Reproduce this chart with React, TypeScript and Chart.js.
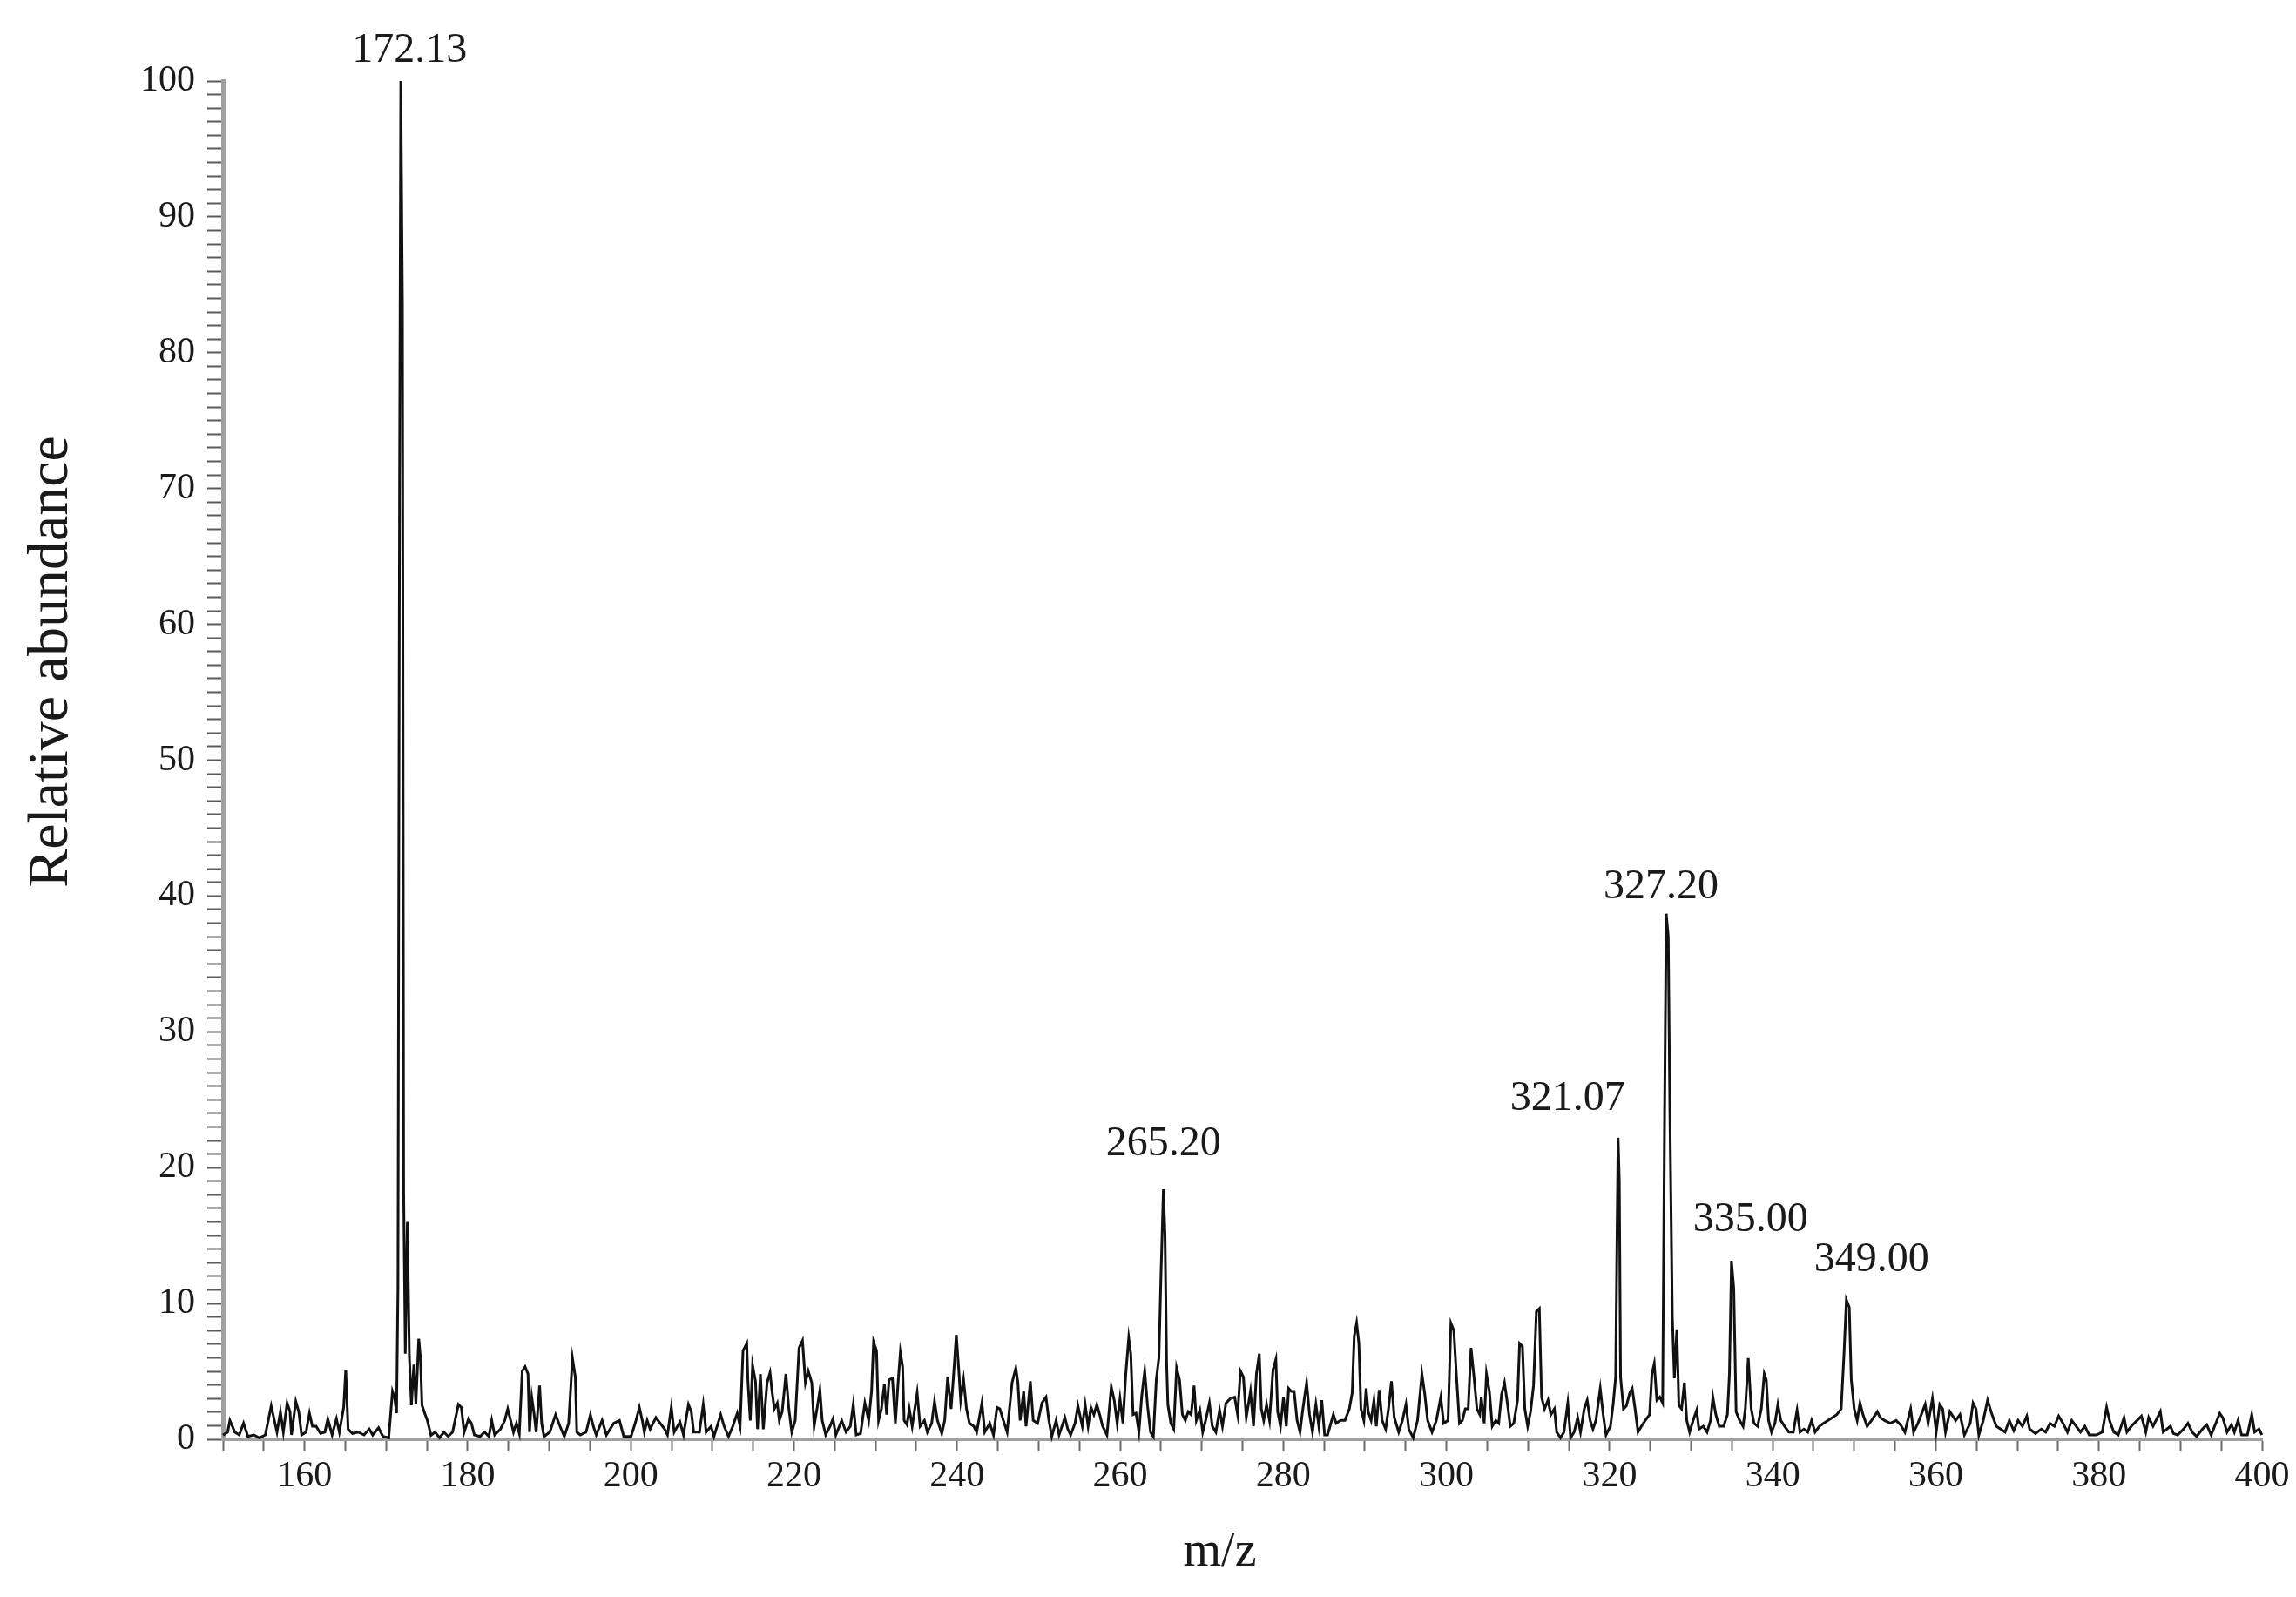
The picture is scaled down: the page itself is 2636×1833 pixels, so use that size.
import React, { useEffect, useRef } from 'react';
import { Chart, registerables } from 'chart.js';

Chart.register(...registerables);

// Mass spectrum profile: [m/z, relative abundance]
const spectrum150to200: [number, number][] = [
  [150.0,0.3],[150.57,0.53],[150.85,1.39],[151.46,0.53],[152.0,0.32],[152.52,1.18],[153.06,0.21],[153.77,0.32],[154.48,0.11],[155.19,0.32],[155.91,2.46],[156.62,0.53],[157.04,2.03],[157.4,0.53],[157.86,2.67],[158.22,2.03],[158.4,0.32],[158.93,2.78],[159.29,2.03],[159.64,0.32],[160.18,0.53],[160.6,1.92],[160.96,0.96],[161.42,0.96],[161.96,0.43],[162.49,0.53],[162.85,1.5],[163.38,0.32],[163.91,1.5],[164.27,0.53],[164.8,2.35],[165.05,5.13],[165.34,0.75],[165.87,0.43],[166.58,0.53],[167.29,0.32],[167.93,0.75],[168.36,0.32],[169.07,0.85],[169.61,0.21],[170.32,0.11],[170.78,3.53],[171.03,3.1],[171.28,1.92],[171.45,11.1],[171.65,71],[171.8,100],[172.0,83.5],[172.15,18.2],[172.35,6.3],[172.6,16],[172.85,6.1],[173.1,2.5],[173.4,5.5],[173.65,2.6],[174.0,7.4],[174.2,6.1],[174.4,2.5],[174.75,1.9],[175.05,1.4],[175.5,0.3],[176.01,0.53],[176.55,0.11],[177.08,0.53],[177.61,0.21],[178.15,0.53],[178.86,2.56],[179.22,2.35],[179.57,0.53],[180.1,1.5],[180.46,1.18],[180.82,0.32],[181.53,0.21],[182.06,0.53],[182.6,0.21],[182.95,1.39],[183.31,0.32],[184.02,0.75],[184.55,1.39],[184.91,2.24],[185.27,1.39],[185.62,0.53],[185.98,1.18],[186.33,0.43],[186.69,5.02],[187.04,5.34],[187.4,4.81],[187.58,0.53],[187.86,3.1],[188.11,2.03],[188.4,0.53],[188.82,3.95],[189.07,1.18],[189.36,0.21],[190.07,0.53],[190.78,1.82],[191.32,0.96],[191.85,0.21],[192.38,1.18],[192.85,5.98],[193.2,4.59],[193.38,0.53],[193.81,0.32],[194.52,0.53],[195.05,1.82],[195.41,0.96],[195.76,0.32],[196.48,1.39],[197.01,0.32],[197.9,1.18],[198.61,1.39],[199.14,0.21],[200.03,0.21],
];

const spectrum200to250: [number, number][] = [
  [200.59,1.28],[201.05,2.35],[201.41,1.39],[201.66,0.53],[202.01,1.39],[202.37,0.75],[203.08,1.6],[203.61,1.18],[204.15,0.75],[204.5,0.32],[204.97,2.35],[205.32,0.53],[206.03,1.28],[206.46,0.32],[207.07,2.56],[207.42,2.03],[207.71,0.53],[208.42,0.53],[208.88,2.56],[209.24,0.53],[209.84,0.96],[210.2,0.21],[211.02,1.82],[211.44,0.96],[211.98,0.21],[212.51,0.96],[213.05,1.92],[213.4,0.96],[213.76,6.52],[214.22,7.05],[214.36,4.27],[214.65,1.39],[214.93,5.45],[215.29,4.27],[215.54,0.75],[215.89,4.81],[216.25,0.75],[216.71,4.17],[217.07,4.91],[217.32,3.53],[217.6,2.24],[217.96,2.67],[218.21,1.39],[218.56,2.03],[219.02,4.81],[219.38,2.24],[219.74,0.53],[220.16,1.39],[220.63,6.73],[221.05,7.26],[221.41,4.17],[221.76,5.02],[222.19,4.17],[222.48,0.96],[222.83,2.24],[223.19,3.63],[223.47,1.39],[223.9,0.32],[224.43,0.96],[224.79,1.5],[225.14,0.32],[225.86,1.39],[226.39,0.53],[226.92,0.96],[227.28,2.56],[227.64,0.32],[228.17,0.43],[228.7,2.67],[229.17,1.39],[229.52,3.53],[229.77,7.16],[230.13,6.52],[230.38,1.39],[230.73,2.24],[231.09,4.06],[231.37,1.82],[231.66,4.38],[232.08,4.49],[232.44,1.18],[232.8,4.38],[233.05,6.41],[233.33,5.34],[233.51,1.39],[233.86,1.07],[234.15,2.24],[234.5,0.96],[235.11,3.42],[235.47,0.96],[236.0,1.39],[236.36,0.53],[236.89,1.18],[237.24,2.78],[237.6,1.39],[238.13,0.43],[238.49,1.39],[238.85,4.59],[239.27,2.24],[239.56,4.59],[239.91,7.69],[240.2,5.24],[240.45,2.88],[240.8,4.38],[241.16,2.24],[241.52,1.18],[242.05,0.96],[242.41,0.53],[243.05,2.67],[243.4,0.53],[244.01,1.18],[244.47,0.32],[244.9,2.35],[245.25,2.24],[245.68,1.39],[246.14,0.53],[246.75,4.17],[247.21,5.24],[247.46,4.17],[247.74,1.39],[248.17,3.53],[248.46,0.96],[248.99,4.27],[249.34,1.39],[249.88,1.18],[250.41,2.67],
];

const spectrum250to300: [number, number][] = [
  [250.91,3.1],[251.26,1.39],[251.62,0.21],[252.15,1.39],[252.51,0.32],[253.22,1.6],[253.58,0.75],[253.93,0.32],[254.47,1.18],[254.82,2.46],[255.36,0.96],[255.71,2.56],[256.07,0.96],[256.42,2.35],[256.78,1.82],[257.14,2.56],[257.49,1.82],[257.85,0.96],[258.38,0.32],[258.91,3.85],[259.27,2.88],[259.63,1.18],[259.98,2.99],[260.34,1.18],[260.69,4.81],[261.05,7.48],[261.3,6.3],[261.58,1.82],[261.94,1.92],[262.3,0.53],[262.65,3.21],[263.01,5.02],[263.36,2.46],[263.72,0.53],[264.07,0.21],[264.43,4.38],[264.75,6],[265.0,12],[265.3,18.4],[265.5,15],[265.7,5.5],[265.85,2.56],[266.21,1.18],[266.57,0.75],[266.92,5.24],[267.28,4.38],[267.63,1.82],[267.99,1.39],[268.35,2.03],[268.7,1.82],[269.06,3.95],[269.34,1.39],[269.77,2.14],[270.12,0.53],[270.48,1.39],[270.94,2.67],[271.3,0.96],[271.73,0.53],[272.19,2.14],[272.54,0.96],[272.97,2.67],[273.5,2.99],[274.04,3.1],[274.4,1.82],[274.75,5.02],[275.11,4.59],[275.46,1.6],[275.98,3.53],[276.35,0.96],[276.71,4.81],[277.06,6.3],[277.31,2.24],[277.6,1.39],[277.95,2.56],[278.31,1.39],[278.74,5.13],[279.09,5.88],[279.31,2.03],[279.66,0.96],[280.02,3.1],[280.37,0.96],[280.66,3.74],[280.98,3.53],[281.33,3.53],[281.69,1.39],[282.05,0.53],[282.4,2.24],[282.86,4.17],[283.22,1.82],[283.58,0.53],[284.0,2.56],[284.36,0.96],[284.72,2.88],[285.07,0.32],[285.43,0.32],[286.14,1.82],[286.49,1.18],[287.03,1.39],[287.56,1.39],[288.1,2.24],[288.45,3.42],[288.7,7.59],[288.99,8.55],[289.27,7.05],[289.52,2.24],[289.88,1.39],[290.16,3.74],[290.41,2.03],[290.77,1.39],[291.12,2.88],[291.41,0.96],[291.76,3.63],[292.12,1.39],[292.55,0.75],[292.9,2.24],[293.26,4.27],[293.61,1.6],[294.15,0.53],[294.61,1.39],[295.04,2.56],[295.39,0.75],[295.93,0.11],[296.46,1.39],[297.0,4.81],[297.35,3.31],[297.7,1.39],[298.24,0.53],[298.77,1.39],[299.31,3.1],[299.66,1.18],[300.2,1.39],
];

const spectrum300to350: [number, number][] = [
  [300.55,8.55],[300.91,8.01],[301.25,4.49],[301.6,1.18],[301.96,1.39],[302.31,2.24],[302.67,2.24],[303.02,6.73],[303.38,4.59],[303.74,2.24],[304.09,1.82],[304.27,3.1],[304.63,1.18],[304.91,4.81],[305.27,3.53],[305.62,0.96],[306.05,1.39],[306.41,1.18],[306.76,3.31],[307.12,4.17],[307.47,2.67],[307.83,0.96],[308.26,1.18],[308.72,2.88],[308.97,7.05],[309.32,6.84],[309.61,2.24],[309.96,0.96],[310.32,2.03],[310.68,3.95],[311.03,9.4],[311.39,9.62],[311.67,3.1],[312.03,2.24],[312.46,2.88],[312.81,1.82],[313.24,2.24],[313.52,0.53],[313.99,0.11],[314.41,0.53],[314.88,2.67],[315.23,0.11],[315.66,0.53],[316.09,1.6],[316.44,0.53],[316.9,2.24],[317.26,2.88],[317.62,1.39],[317.97,0.75],[318.33,1.39],[318.86,3.74],[319.22,1.82],[319.57,0.32],[320.11,0.96],[320.46,2.67],[320.75,4.59],[320.9,14],[321.05,22.2],[321.2,19],[321.35,4.59],[321.71,2.24],[322.06,2.46],[322.49,3.42],[322.78,3.74],[323.13,2.24],[323.49,0.53],[323.91,0.96],[324.38,1.39],[324.91,1.82],[325.2,4.81],[325.48,5.56],[325.8,2.88],[326.16,3.1],[326.51,2.67],[326.75,24],[326.95,38.7],[327.2,37],[327.4,24],[327.7,9.0],[327.95,4.5],[328.25,8.1],[328.5,2.5],[328.83,2.24],[329.18,4.17],[329.47,1.39],[329.82,0.53],[330.25,1.39],[330.68,2.14],[330.96,0.75],[331.49,0.96],[331.96,0.53],[332.38,1.39],[332.67,3.1],[333.03,1.82],[333.45,0.96],[333.99,0.96],[334.45,1.82],[334.7,4.81],[334.95,13.14],[335.23,11.13],[335.52,2.03],[335.94,1.39],[336.37,0.96],[336.65,2.24],[337.01,5.98],[337.37,2.24],[337.72,1.18],[338.15,0.96],[338.61,2.24],[338.97,4.81],[339.22,4.38],[339.5,1.39],[339.86,0.53],[340.28,1.18],[340.64,2.56],[341.0,1.39],[341.46,0.96],[341.99,0.53],[342.53,0.53],[342.99,2.14],[343.35,0.53],[343.84,0.75],[344.31,0.53],[344.77,1.39],[345.2,0.53],[345.73,0.96],[346.26,1.18],[346.8,1.39],[347.33,1.6],[347.86,1.82],[348.4,2.24],[348.75,6.3],[349.04,10.26],[349.39,9.72],[349.64,4.38],[350.0,2.24],[350.36,1.39],[350.71,2.67],
];

const spectrum350to400: [number, number][] = [
  [351.07,1.82],[351.58,0.96],[352.12,1.39],[352.83,2.03],[353.18,1.6],[353.72,1.39],[354.43,1.18],[355.14,1.39],[355.68,1.07],[356.21,0.53],[356.92,2.24],[357.28,0.53],[357.81,1.18],[358.7,2.56],[359.06,1.18],[359.59,2.99],[360.05,0.53],[360.48,2.56],[360.84,2.24],[361.19,0.53],[361.73,2.03],[362.44,1.39],[362.97,1.82],[363.51,0.32],[364.22,1.18],[364.57,2.67],[364.93,2.24],[365.28,0.32],[365.82,1.39],[366.35,2.88],[366.89,1.82],[367.42,0.96],[367.95,0.75],[368.49,0.53],[369.02,1.39],[369.56,0.64],[370.09,1.39],[370.62,0.96],[371.16,1.71],[371.51,0.75],[372.22,0.43],[372.94,0.75],[373.47,0.53],[374.0,1.18],[374.54,0.96],[375.07,1.71],[375.6,1.18],[376.14,0.53],[376.67,1.39],[377.21,0.96],[377.74,0.53],[378.27,0.96],[378.81,0.32],[379.7,0.32],[380.41,0.53],[380.94,2.35],[381.3,1.39],[381.83,0.53],[382.37,0.32],[383.08,1.6],[383.43,0.53],[383.97,0.96],[384.68,1.39],[385.21,1.71],[385.75,0.53],[386.1,1.6],[386.64,0.96],[387.53,2.03],[387.88,0.53],[388.77,0.96],[389.13,0.43],[389.66,0.32],[390.37,0.75],[390.91,1.18],[391.44,0.53],[391.98,0.21],[392.69,0.75],[393.22,1.07],[393.76,0.32],[394.82,1.92],[395.18,1.6],[395.71,0.53],[396.25,1.07],[396.6,0.53],[397.06,1.39],[397.49,0.32],[398.2,0.32],[398.74,1.82],[399.09,0.53],[399.63,0.75],[399.98,0.32],
];

// Labelled peaks
const peakLabels = ['172.13', '265.20', '321.07', '327.20', '335.00', '349.00'];
const peakMz = [171.8, 265.3, 321.05, 326.95, 334.95, 349.04];
const peakAbundance = [100, 18.4, 22.2, 38.7, 13.14, 10.26];

// Axes
const xMin = 150;
const xMax = 400;
const xTickStep = 5;
const xLabelEvery = 20;
const yMin = 0;
const yMax = 100;
const yTickStep = 1;
const yLabelEvery = 10;
const xTitle = 'm/z';
const yTitle = 'Relative abundance';

const SERIF = "'Liberation Serif', 'Times New Roman', Times, serif";
// pixel offsets of each label centre from its peak apex
const labelOffsets: [number, number][] = [[10, -35], [0, -52], [-58, -45], [-6, -30], [22, -47], [29, -46]];

export default function App() {
  const canvasRef = useRef<HTMLCanvasElement>(null);

  useEffect(() => {
    const canvas = canvasRef.current;
    if (!canvas) return;
    const points = [
      ...spectrum150to200,
      ...spectrum200to250,
      ...spectrum250to300,
      ...spectrum300to350,
      ...spectrum350to400,
    ].map(([x, y]) => ({ x, y }));

    const annotate = {
      id: 'annotate',
      afterDraw(chart: any) {
        const { ctx, scales, chartArea } = chart;
        const xs = scales.x;
        const ys = scales.y;
        ctx.save();
        ctx.fillStyle = '#1a1a1a';
        ctx.textAlign = 'center';
        ctx.textBaseline = 'middle';
        ctx.font = `48px ${SERIF}`;
        peakLabels.forEach((t, i) => {
          const px = xs.getPixelForValue(peakMz[i]) + labelOffsets[i][0];
          const py = ys.getPixelForValue(peakAbundance[i]) + labelOffsets[i][1];
          ctx.fillText(t, px, py);
        });
        ctx.font = `56px ${SERIF}`;
        ctx.fillText(xTitle, (chartArea.left + chartArea.right) / 2 - 26, chartArea.bottom + 130);
        ctx.font = `66px ${SERIF}`;
        ctx.translate(60, (chartArea.top + chartArea.bottom) / 2 - 113);
        ctx.rotate(-Math.PI / 2);
        ctx.fillText(yTitle, 0, 0);
        ctx.restore();
      },
    };

    const chart = new Chart(canvas, {
      type: 'line',
      data: {
        datasets: [
          {
            data: points,
            borderColor: '#111111',
            borderWidth: 3,
            pointRadius: 0,
            tension: 0,
            fill: false,
            clip: 10,
          },
        ],
      },
      options: {
        responsive: false,
        animation: false,
        events: [],
        layout: { padding: { left: 0, top: 93, right: 39, bottom: 0 } },
        plugins: { legend: { display: false }, tooltip: { enabled: false }, title: { display: false } },
        scales: {
          x: {
            type: 'linear',
            min: xMin,
            max: xMax,
            border: { display: true, color: '#a0a0a0', width: 4 },
            grid: { display: true, drawOnChartArea: false, drawTicks: true, tickLength: 13, tickColor: '#6a6a6a', tickWidth: 2 },
            ticks: {
              stepSize: xTickStep,
              autoSkip: false,
              maxRotation: 0,
              padding: 5,
              color: '#1a1a1a',
              font: { family: SERIF, size: 42 },
              callback: (v: any) => (Number(v) % xLabelEvery === 0 ? String(v) : ''),
            },
            afterFit: (s: any) => {
              s.height = 181;
              s.paddingLeft = 0;
              s.paddingRight = 0;
            },
          },
          y: {
            type: 'linear',
            min: yMin,
            max: yMax,
            border: { display: true, color: '#a0a0a0', width: 5 },
            grid: { display: true, drawOnChartArea: false, drawTicks: true, tickLength: 18, tickColor: '#5a5a5a', tickWidth: 2 },
            ticks: {
              stepSize: yTickStep,
              autoSkip: false,
              padding: 14,
              color: '#1a1a1a',
              font: { family: SERIF, size: 42 },
              callback: (v: any) => (Number(v) % yLabelEvery === 0 ? String(v) : ''),
            },
            afterFit: (s: any) => {
              s.width = 256;
              s.paddingTop = 0;
              s.paddingBottom = 0;
            },
          },
        },
      },
      plugins: [annotate],
    } as any);

    return () => chart.destroy();
  }, []);

  return (
    <div style={{ position: 'fixed', left: 0, top: 0, width: 2636, height: 1833, background: '#ffffff' }}>
      <canvas ref={canvasRef} width={2636} height={1833} style={{ width: 2636, height: 1833, display: 'block' }} />
    </div>
  );
}
